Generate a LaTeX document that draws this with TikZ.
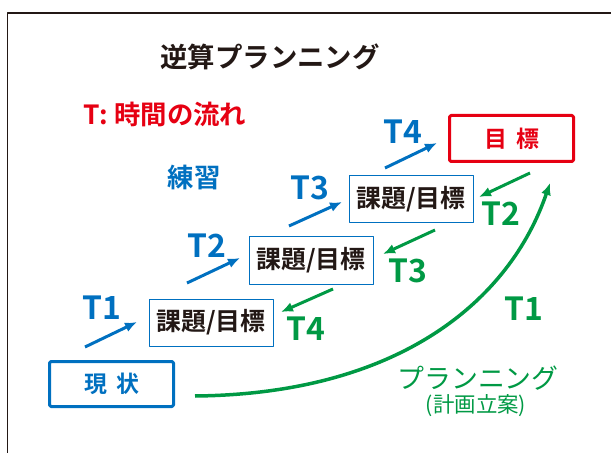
\documentclass[tikz,border=0pt]{standalone}
\usepackage{fontspec}
\setmainfont{Noto Sans CJK JP}[BoldFont={Noto Sans CJK JP Bold}]
\usetikzlibrary{arrows.meta}
\definecolor{tblue}{RGB}{0,112,192}
\definecolor{tred}{RGB}{230,0,18}
\definecolor{tgreen}{RGB}{0,153,68}
\definecolor{tink}{RGB}{35,24,21}
\tikzset{
  taskbox/.style={draw=tblue,line width=1bp,minimum width=124bp,minimum height=47bp,
    inner sep=0pt,text=tink,font=\fontsize{25}{25}\selectfont\bfseries},
  tlabel/.style={inner sep=0pt,font=\fontsize{32}{32}\selectfont\bfseries},
  flow/.style={->,line width=3bp},
}
\begin{document}
\begin{tikzpicture}[x=1bp,y=-1bp,>={Latex[length=12bp,width=10bp]},line join=bevel]
\useasboundingbox (0,0) rectangle (611,453);
  % Frame
  \draw [line width=1.2bp,tink] (7.5,453) -- (7.5,13) -- (611,13);
%%
  % Node: Title
  \node [inner sep=0pt,text=tink,font=\fontsize{27.5}{27.5}\selectfont\bfseries] (title) at (270,57) {逆算プランニング};
  % Node: Legend
  \node [inner sep=0pt,text=tred,font=\fontsize{26.5}{26.5}\selectfont\bfseries] (legend) at (165,114) {T: 時間の流れ};
  % Node: Practice
  \node [inner sep=0pt,text=tblue,font=\fontsize{26.5}{26.5}\selectfont\bfseries] (practice) at (194,178) {練習};
%%
  % Node: Now
  \node [draw=tblue,line width=3bp,minimum width=124bp,minimum height=45bp,inner sep=0pt,
    rounded corners=1.5bp,text=tblue,font=\fontsize{23}{23}\selectfont\bfseries] (now) at (111.5,384) {現\hspace{0.4em}状};
  % Node: Task1
  \node [taskbox] (task1) at (211,322.5) {課題/目標};
  % Node: Task2
  \node [taskbox] (task2) at (311,260.5) {課題/目標};
  % Node: Task3
  \node [taskbox] (task3) at (411,199.5) {課題/目標};
  % Node: Goal
  \node [draw=tred,line width=3bp,minimum width=124bp,minimum height=46bp,inner sep=0pt,
    rounded corners=1.5bp,text=tred,font=\fontsize{23}{23}\selectfont\bfseries] (goal) at (511.5,138.5) {目\hspace{0.4em}標};
%%
  % Edge: Now -> Task1
  \coordinate (p1s) at (85,347);
  \coordinate (p1e) at (137,322);
  \draw [flow,tblue] (p1s) -- (p1e);
  \node [tlabel,text=tblue] (p1) at (102,308) {T1};
  % Edge: Task1 -> Task2
  \coordinate (p2s) at (187,283);
  \coordinate (p2e) at (240,258);
  \draw [flow,tblue] (p2s) -- (p2e);
  \node [tlabel,text=tblue] (p2) at (207,246) {T2};
  % Edge: Task2 -> Task3
  \coordinate (p3s) at (289,226);
  \coordinate (p3e) at (342,202);
  \draw [flow,tblue] (p3s) -- (p3e);
  \node [tlabel,text=tblue] (p3) at (310,188) {T3};
  % Edge: Task3 -> Goal
  \coordinate (p4s) at (385,168);
  \coordinate (p4e) at (437,143);
  \draw [flow,tblue] (p4s) -- (p4e);
  \node [tlabel,text=tblue] (p4) at (403,132) {T4};
%%
  % Edge: Now -> Goal (planning)
  \coordinate (q1s) at (195,396);
  \coordinate (q1e) at (550,183);
  \draw [flow,tgreen,line width=3.5bp] (q1s) .. controls (400,394) and (510,300) .. (q1e);
  \node [tlabel,text=tgreen] (q1) at (524,309) {T1};
  % Edge: Goal -> Task3
  \coordinate (q2s) at (530,173);
  \coordinate (q2e) at (479,197);
  \draw [flow,tgreen] (q2s) -- (q2e);
  \node [tlabel,text=tgreen] (q2) at (501,214) {T2};
  % Edge: Task3 -> Task2
  \coordinate (q3s) at (435,230);
  \coordinate (q3e) at (383,254);
  \draw [flow,tgreen] (q3s) -- (q3e);
  \node [tlabel,text=tgreen] (q3) at (408,271) {T3};
  % Edge: Task2 -> Task1
  \coordinate (q4s) at (333,289);
  \coordinate (q4e) at (281,312);
  \draw [flow,tgreen] (q4s) -- (q4e);
  \node [tlabel,text=tgreen] (q4) at (306,329) {T4};
%%
  % Node: Planning
  \node [inner sep=0pt,text=tgreen,font=\fontsize{27}{27}\selectfont] (plan) at (478,378) {プランニング};
  \node [inner sep=0pt,text=tgreen,font=\fontsize{21.5}{21.5}\selectfont] (plannote) at (476,406) {(計画立案)};
%
\end{tikzpicture}
\end{document}
